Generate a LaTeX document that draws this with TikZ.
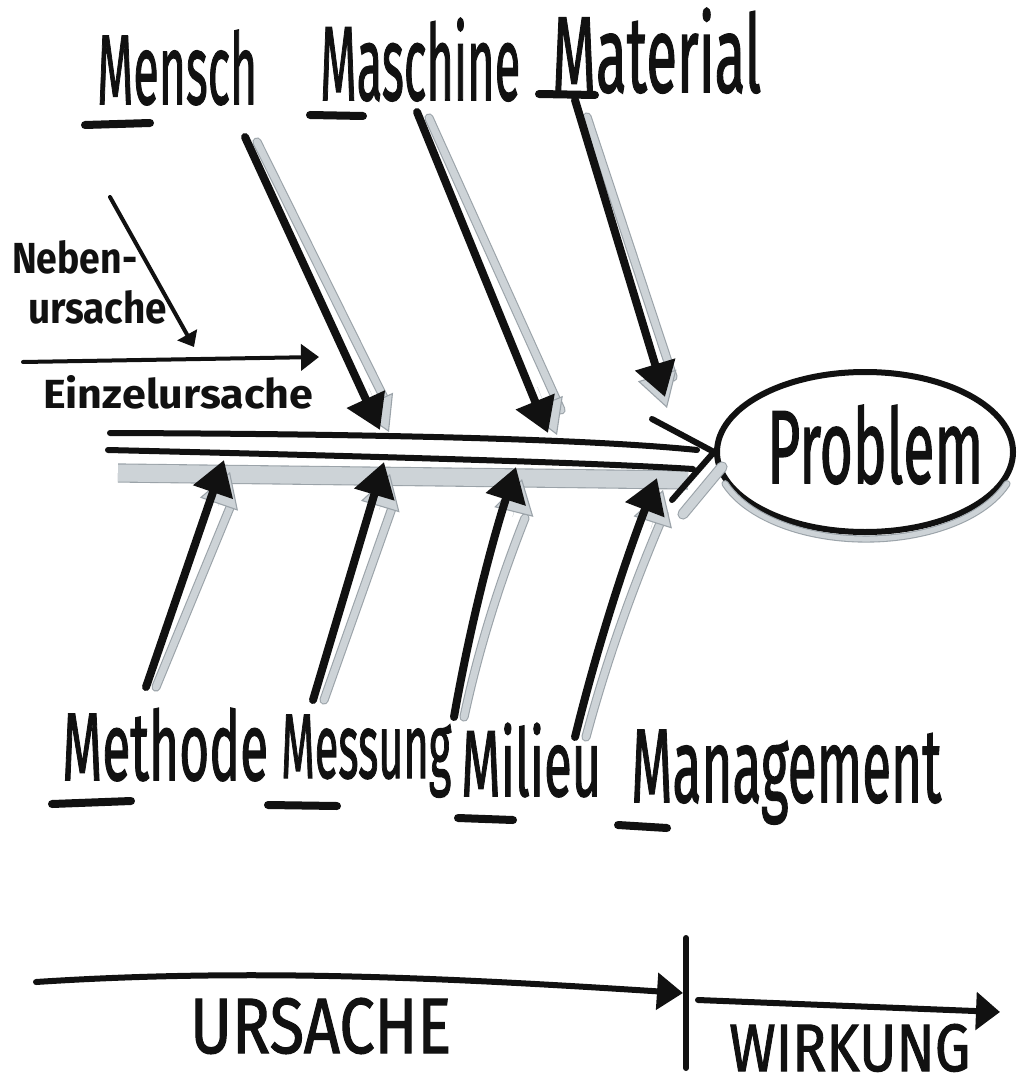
\documentclass[tikz,border=0pt]{standalone}
\usepackage{fontspec}
\setmainfont{Fira Sans}
\newfontfamily\markerfont{Fira Sans}[FakeBold=1.6]
\usepackage{graphicx}
\usetikzlibrary{arrows.meta,shapes.geometric,calc}

\definecolor{ink}{HTML}{111111}
\definecolor{shfill}{HTML}{CDD3D7}
\definecolor{shedge}{HTML}{9BA3A9}

% hand lettering: text squeezed into a given width and height (in pt)
\newcommand{\hw}[3]{\resizebox{#1pt}{#2pt}{\markerfont #3}}
\newcommand{\hwsmall}[3]{\resizebox{#1pt}{#2pt}{\bfseries #3}}

\tikzset{
  inkline/.style={draw=ink, line width=6pt, line cap=round},
  cause/.style={draw=ink, line width=8pt, line cap=round,
    -{Triangle[length=34pt,width=40pt]}},
  thinarrow/.style={draw=ink, line width=4pt, line cap=round},
  shade/.style={draw=shedge, line width=1.1pt, double=shfill,
    double distance=7pt, line cap=round},
  shadehead/.style={draw=shedge, line width=0.1pt,
    -{Triangle[length=34pt,width=40pt,fill=shfill,color=shedge,line width=1.1pt]}},
  lbl/.style={anchor=base west, inner sep=0pt, text=ink},
  uline/.style={draw=ink, line width=8pt, line cap=round},
}

\begin{document}
\begin{tikzpicture}[x=1pt, y=-1pt]
\useasboundingbox[fill=white] (0,0) rectangle (1018,1091);

% ---------- coordinates of the bones ----------
\coordinate (mensch-s) at (245,137);   \coordinate (mensch-e) at (380,430);
\coordinate (maschine-s) at (417,112); \coordinate (maschine-e) at (548,433);
\coordinate (material-s) at (575,100); \coordinate (material-e) at (665,397);
\coordinate (methode-s) at (146,687);  \coordinate (methode-e) at (224,460);
\coordinate (messung-s) at (313,700);  \coordinate (messung-e) at (384,462);
\coordinate (milieu-s) at (454,717);   \coordinate (milieu-e) at (516,467);
\coordinate (mgmt-s) at (575,737);     \coordinate (mgmt-e) at (657,478);

% shadow strokes beside the bones
\coordinate (mensch-ss) at (257,142);   \coordinate (mensch-se) at (386,402);
\coordinate (maschine-ss) at (429,118); \coordinate (maschine-se) at (561,410);
\coordinate (material-ss) at (587,117); \coordinate (material-se) at (673,377);
\coordinate (methode-ss) at (156,687);  \coordinate (methode-se) at (231,505);
\coordinate (messung-ss) at (324,700);  \coordinate (messung-se) at (392,508);
\coordinate (milieu-ss) at (464,717);   \coordinate (milieu-se) at (525,518);
\coordinate (mgmt-ss) at (586,737);     \coordinate (mgmt-se) at (664,514);

% spine
\coordinate (sp-t1) at (110,433); \coordinate (sp-t2) at (697,450);
\coordinate (sp-b1) at (108,450); \coordinate (sp-b2) at (693,469);
\coordinate (cv-u) at (652,419);  \coordinate (cv-l) at (672,500);
\coordinate (sp-sh1) at (118,473); \coordinate (sp-sh2) at (688,480);
\coordinate (cv-sh1) at (683,514); \coordinate (cv-sh2) at (722,467);

% small example arrows
\coordinate (neben-s) at (110,197);  \coordinate (neben-e) at (194,347);
\coordinate (einzel-s) at (23,362);  \coordinate (einzel-e) at (319,357);

% cause / effect line
\coordinate (tl-a) at (36,982);  \coordinate (tl-b) at (683,993);
\coordinate (bar-t) at (686,938); \coordinate (bar-b) at (686,1068);
\coordinate (tr-a) at (698,1000); \coordinate (tr-b) at (1000,1012);

% ---------- problem head ----------
\node[draw=ink, line width=6pt, ellipse, minimum width=296pt,
      minimum height=160pt, inner sep=0pt] (problem) at (865,452) {};

% ---------- shadows ----------
\draw[shade, double distance=17pt, line cap=butt] (sp-sh1) -- (sp-sh2);
\draw[shade, double distance=9pt] (cv-sh1) -- (cv-sh2);
\draw[shade, double distance=5pt] ($(problem.center)+(1,3)+(20:150 and 84)$)
  arc[start angle=20, end angle=160, x radius=150, y radius=84];

\foreach \b in {mensch,maschine,material,methode,messung}
  \draw[shade] (\b-ss) -- (\b-se);
\foreach \b in {milieu,mgmt}
  \draw[shade] (\b-ss) .. controls ($(\b-ss)!0.33!(\b-se)+(-6,0)$)
    and ($(\b-ss)!0.66!(\b-se)+(-6,0)$) .. (\b-se);

\draw[shadehead] ($(mensch-s)!0.85!(mensch-e)+(9,2)$) -- ($(mensch-e)+(9,2)$);
\draw[shadehead] ($(maschine-s)!0.85!(maschine-e)+(9,2)$) -- ($(maschine-e)+(9,2)$);
\draw[shadehead] ($(material-s)!0.85!(material-e)+(2,11)$) -- ($(material-e)+(2,11)$);
\foreach \b in {methode,messung,milieu,mgmt}
  \draw[shadehead] ($(\b-s)!0.85!(\b-e)+(6,12)$) -- ($(\b-e)+(6,12)$);

% ---------- spine ----------
\draw[inkline] (sp-t1) .. controls (400,434) and (600,440) .. (sp-t2);
\draw[inkline] (sp-b1) .. controls (400,457) and (600,463) .. (sp-b2);
\draw[inkline] (cv-u) -- (problem.west);
\draw[inkline] (cv-l) -- (problem.west);

% ---------- bones ----------
\foreach \b in {mensch,maschine,material,methode,messung}
  \draw[cause] (\b-s) -- (\b-e);
\foreach \b in {milieu,mgmt}
  \draw[cause] (\b-s) .. controls ($(\b-s)!0.33!(\b-e)+(-6,0)$)
    and ($(\b-s)!0.66!(\b-e)+(-6,0)$) .. (\b-e);

\draw[thinarrow, -{Triangle[length=14pt,width=22pt]}] (neben-s) -- (neben-e);
\draw[thinarrow, -{Triangle[length=18pt,width=26pt]}] (einzel-s) -- (einzel-e);

% ---------- labels ----------
\node[lbl] (mensch) at (97,104) {\hw{160}{74}{Mensch}};
\node[lbl] (maschine) at (320,100) {\hw{200}{82}{Maschine}};
\node[lbl] (material) at (552,92) {\hw{209}{84}{Material}};
\node[lbl] (methode) at (62,780) {\hw{206}{72}{Methode}};
\node[lbl] (messung) at (281,778) {\hw{170}{63}{Messung}};
\node[lbl] (milieu) at (461,796) {\hw{140}{73}{Milieu}};
\node[lbl] (management) at (631,802) {\hw{310}{72}{Management}};
\node[lbl] (probtext) at (767,483) {\hw{216}{78}{Problem}};
\node[lbl] (neben1) at (12,273) {\hwsmall{125}{33}{Neben-}};
\node[lbl] (neben2) at (28,323) {\hwsmall{139}{33}{ursache}};
\node[lbl] (einzel) at (43,408) {\hwsmall{270}{33}{Einzelursache}};
\node[lbl] (ursache) at (190,1053) {\hw{261}{55}{URSACHE}};
\node[lbl] (wirkung) at (729,1071) {\hw{241}{47}{WIRKUNG}};

% underlined initials
\draw[uline] ($(mensch.base west)+(-12,21)$) -- ++(65,-2);
\draw[uline] ($(maschine.base west)+(-10,15)$) -- ++(53,1);
\draw[uline] ($(material.base west)+(-13,2)$) -- ++(56,1);
\draw[uline] ($(methode.base west)+(-10,24)$) -- ++(79,-3);
\draw[uline] ($(messung.base west)+(-13,27)$) -- ++(69,1);
\draw[uline] ($(milieu.base west)+(-3,22)$) -- ++(55,2);
\draw[uline] ($(management.base west)+(-13,23)$) -- ++(49,3);

% ---------- cause -> effect ----------
\draw[inkline, -{Triangle[length=26pt,width=36pt]}]
  (tl-a) .. controls (250,968) and (450,978) .. (tl-b);
\draw[inkline] (bar-t) -- (bar-b);
\draw[inkline, -{Triangle[length=24pt,width=37pt]}] (tr-a) -- (tr-b);
\end{tikzpicture}
\end{document}
